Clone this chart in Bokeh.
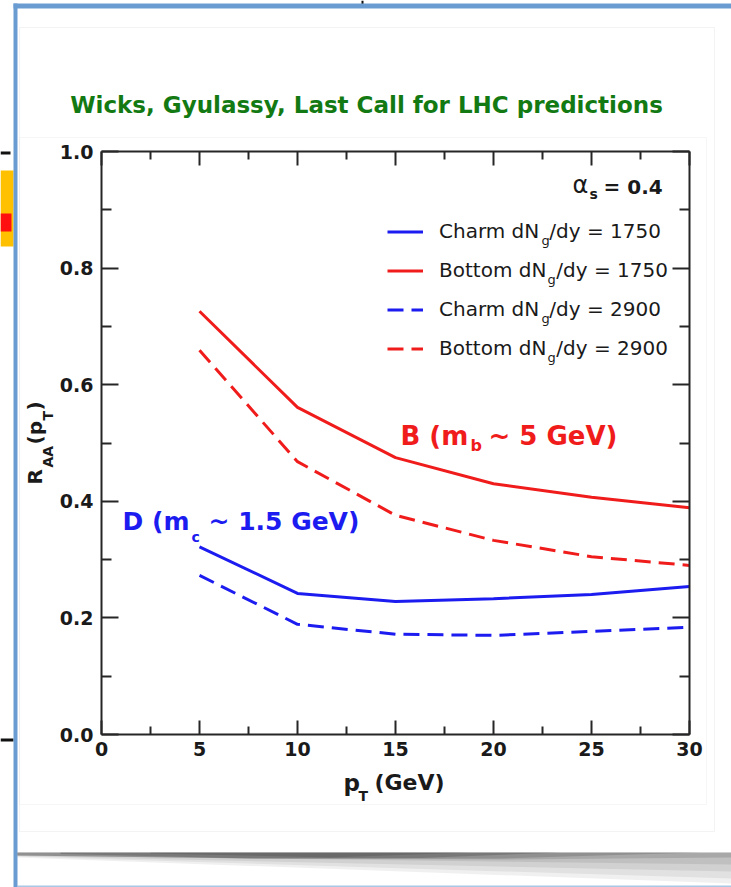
import math
from bokeh.plotting import figure
from bokeh.models import (Range1d, LinearAxis, FixedTicker, Legend, LegendItem, Label,
                          BoxAnnotation, PolyAnnotation, ColumnDataSource,
                          NumeralTickFormatter, CustomJSTickFormatter)
from bokeh.embed import file_html
from bokeh.resources import INLINE

# ---------------- data ----------------
pt = [5, 10, 15, 20, 25, 30]
charm_1750 = [0.322, 0.242, 0.228, 0.233, 0.240, 0.254]
bottom_1750 = [0.726, 0.561, 0.475, 0.430, 0.407, 0.389]
charm_2900 = [0.273, 0.189, 0.172, 0.170, 0.177, 0.184]
bottom_2900 = [0.659, 0.468, 0.376, 0.333, 0.305, 0.290]

x_ticks = [0, 5, 10, 15, 20, 25, 30]
x_minor = [2.5, 7.5, 12.5, 17.5, 22.5, 27.5]
y_ticks = [0.0, 0.2, 0.4, 0.6, 0.8, 1.0]
y_minor = [0.1, 0.3, 0.5, 0.7, 0.9]
x_lo, x_hi = 0, 30
y_lo, y_hi = 0.0, 1.0

legend_labels = ["Charm dN\u2002/dy = 1750", "Bottom dN\u2002/dy = 1750",
                 "Charm dN\u2002/dy = 2900", "Bottom dN\u2002/dy = 2900"]
title_text = "Wicks, Gyulassy, Last Call for LHC predictions"

RED = "#f01c1c"
BLUE = "#1c1cf0"
GREEN = "#137a13"
INK = "#262626"

# ---------------- page layout ----------------
W, H = 731, 887
BOX_L, BOX_R, BOX_T, BOX_B = 101, 689, 151, 734   # where the axes box sits on the page (px)
ppx = (BOX_R - BOX_L) / (x_hi - x_lo)
ppy = (BOX_B - BOX_T) / (y_hi - y_lo)
x_range = Range1d(x_lo - BOX_L / ppx, x_hi + (W - BOX_R) / ppx)
y_range = Range1d(y_lo - (H - BOX_B) / ppy, y_hi + BOX_T / ppy)


def sx(px):
    return px


def sy(py):
    return H - py


p = figure(width=W, height=H, output_backend="svg", toolbar_location=None,
           x_range=x_range, y_range=y_range,
           min_border=0, min_border_left=0, min_border_right=0,
           min_border_top=0, min_border_bottom=0,
           background_fill_color="white", border_fill_color="white")
p.grid.visible = False
p.outline_line_color = None

xt = FixedTicker(ticks=x_ticks, minor_ticks=x_minor)
yt = FixedTicker(ticks=y_ticks, minor_ticks=y_minor)

xa = p.xaxis[0]
ya = p.yaxis[0]
xa.ticker = xt
ya.ticker = yt
xa.formatter = NumeralTickFormatter(format="0")
ya.formatter = NumeralTickFormatter(format="0.0")
xa.fixed_location = y_lo
ya.fixed_location = x_lo
xa.bounds = (x_lo, x_hi)
ya.bounds = (y_lo, y_hi)

ta = LinearAxis(ticker=xt, formatter=CustomJSTickFormatter(code="return ''"),
                fixed_location=y_hi, bounds=(x_lo, x_hi))
ra = LinearAxis(ticker=yt, formatter=CustomJSTickFormatter(code="return ''"),
                fixed_location=x_hi, bounds=(y_lo, y_hi))
p.add_layout(ta, "above")
p.add_layout(ra, "right")

for ax in [xa, ya, ta, ra]:
    ax.axis_line_color = INK
    ax.axis_line_width = 2
    ax.major_tick_out = 0
    ax.minor_tick_out = 0
    ax.major_tick_line_color = INK
    ax.minor_tick_line_color = INK
    ax.major_tick_line_width = 2
    ax.minor_tick_line_width = 2
    ax.major_label_text_font = "DejaVu Sans"
    ax.major_label_text_font_style = "bold"
    ax.major_label_text_font_size = "19px"
    ax.major_label_text_color = "#1a1a1a"
for ax in [xa, ta]:
    ax.major_tick_in = 14
    ax.minor_tick_in = 8
for ax in [ya, ra]:
    ax.major_tick_in = 17
    ax.minor_tick_in = 10
xa.major_label_standoff = 7
ya.major_label_standoff = 8

src = ColumnDataSource(dict(pt=pt, c1=charm_1750, b1=bottom_1750, c2=charm_2900, b2=bottom_2900))
r1 = p.line("pt", "c1", source=src, line_color=BLUE, line_width=3)
r2 = p.line("pt", "b1", source=src, line_color=RED, line_width=3)
r3 = p.line("pt", "c2", source=src, line_color=BLUE, line_width=3, line_dash="16 8")
r4 = p.line("pt", "b2", source=src, line_color=RED, line_width=3, line_dash="16 8")

legend = Legend(items=[LegendItem(label=legend_labels[0], renderers=[r1]),
                       LegendItem(label=legend_labels[1], renderers=[r2]),
                       LegendItem(label=legend_labels[2], renderers=[r3]),
                       LegendItem(label=legend_labels[3], renderers=[r4])],
                location=(sx(387), sy(360)), orientation="vertical",
                glyph_width=36, glyph_height=23, label_height=23, label_standoff=16,
                spacing=15, padding=0, margin=0, border_line_color=None,
                background_fill_alpha=0, label_text_font="DejaVu Sans",
                label_text_font_size="20px", label_text_color="#1a1a1a")
p.add_layout(legend)


def lab(text, px, py, size, color="#1a1a1a", bold=True, font="DejaVu Sans",
        align="left", baseline="middle", angle=0.0):
    p.add_layout(Label(text=text, x=sx(px), y=sy(py), x_units="screen", y_units="screen",
                       text_font=font, text_font_size=f"{size}px",
                       text_font_style="bold" if bold else "normal", text_color=color,
                       text_align=align, text_baseline=baseline, angle=angle))


# subscripts g in the legend
g_x = [541, 547, 541, 547]
for i in range(4):
    lab("g", g_x[i], 240 + 39 * i, 13, bold=False)

# alpha_s = 0.4
lab("\u03b1", 572, 184, 24, bold=False)
lab("s", 589, 193, 14)
lab("= 0.4", 603, 186, 20)

# title
lab(title_text, 366, 104, 23, color=GREEN, align="center")

# B and D annotations
lab("B (m", 400, 435, 26, color=RED)
lab("b", 470, 445, 16, color=RED)
lab("~ 5 GeV)", 488, 435, 26, color=RED)
lab("D (m", 122, 521, 25, color=BLUE)
lab("c", 191, 536, 14, color=BLUE)
lab("~ 1.5 GeV)", 208, 521, 25, color=BLUE)

# x axis label  p_T (GeV)
lab("p", 343, 782, 23)
lab("T", 358, 795, 14)
lab("(GeV)", 374, 782, 22)

# y axis label  R_AA(p_T), rotated
V = math.pi / 2
lab("R", 34, 484, 20, angle=V)
lab("AA", 47, 467, 14, angle=V)
lab("(p", 34, 444, 20, angle=V)
lab("T", 47, 420, 14, angle=V)
lab(")", 34, 410, 20, angle=V)


def box(l, r, t, b, fill=None, line=None, lw=1, alpha=1.0):
    p.add_layout(BoxAnnotation(left=sx(l), right=sx(r), top=sy(t), bottom=sy(b),
                               left_units="screen", right_units="screen",
                               top_units="screen", bottom_units="screen",
                               fill_color=fill, fill_alpha=alpha if fill else 0,
                               line_color=line, line_width=lw, level="underlay"))


# slide frame decorations
box(19, 714, 27, 831, line="#d6d6d6")
box(19, 706, 137, 804, line="#e2e2e2")
box(0, 13, 170, 246, fill="#ffc000")
box(0, 11, 213, 231, fill="#ff1010")
box(0, 13, 738, 741, fill="#111111")
box(0, 10, 151, 154, fill="#111111")
box(361, 363, 0, 4, fill="#111111")
box(17, 731, 885, 887, fill="#a9c7e6")
box(13, 17, 3, 887, fill="#6a9bd1")
box(13, 731, 3, 8, fill="#6a9bd1")


def poly(xs, ys, alpha):
    p.add_layout(PolyAnnotation(xs=[sx(v) for v in xs], ys=[sy(v) for v in ys],
                                xs_units="screen", ys_units="screen",
                                fill_color="#000000", fill_alpha=alpha, line_color=None,
                                level="underlay"))


# page-curl shadow at the bottom (soft, widening to the right)
poly([17, 731, 731, 17], [852, 852, 883, 857], 0.06)
poly([17, 731, 731, 17], [852, 852, 878, 856], 0.06)
poly([17, 731, 731, 17], [852, 852, 871, 855.5], 0.07)
poly([17, 731, 731, 17], [852, 852, 864, 855], 0.08)
poly([17, 731, 731, 500, 250, 17], [852, 852, 857, 859, 858, 855], 0.12)
poly([17, 700, 500, 250, 17], [852, 852, 858, 858, 855], 0.14)
poly([60, 560, 420, 250, 60], [852, 852, 857.5, 858, 853.5], 0.16)
poly([150, 470, 330, 150], [852, 852, 857, 853], 0.12)

open("out.html", "w").write(file_html(p, INLINE))
